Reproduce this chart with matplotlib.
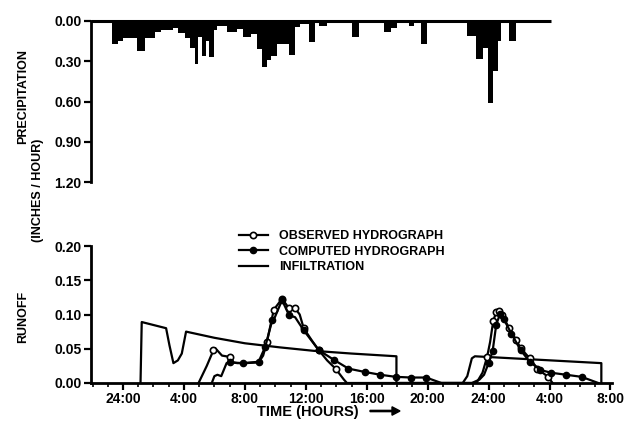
import matplotlib
matplotlib.use("Agg")
import matplotlib.pyplot as plt
from matplotlib.lines import Line2D
from matplotlib.ticker import MultipleLocator

# ---------------- data ----------------
# precipitation blocks (hours after first 24:00), inches/hour
precip_start = [-0.74, -0.31, 0.00, 0.90, 1.45, 2.10, 2.50, 3.30, 3.60, 4.10, 4.40, 4.70,
                4.95, 5.20, 5.45, 5.65, 5.95, 6.15, 6.80, 7.50, 7.90, 8.40, 8.80, 9.10,
                9.45, 9.70, 10.10, 10.88, 11.32, 11.64, 12.19, 12.85, 15.05, 17.13, 17.60,
                18.77, 19.54, 22.61, 23.16, 23.60, 23.93, 24.26, 24.59, 25.35]
precip_end = [-0.31, 0.00, 0.90, 1.45, 2.10, 2.50, 3.30, 3.60, 4.10, 4.40, 4.70, 4.95,
              5.20, 5.45, 5.65, 5.95, 6.15, 6.80, 7.50, 7.90, 8.40, 8.80, 9.10, 9.45,
              9.70, 10.10, 10.88, 11.32, 11.64, 12.19, 12.63, 13.40, 15.48, 17.60, 18.00,
              19.10, 19.98, 23.16, 23.60, 23.93, 24.26, 24.59, 24.80, 25.79]
precip_value = [0.17, 0.15, 0.13, 0.22, 0.13, 0.085, 0.07, 0.05, 0.09, 0.13, 0.20, 0.32,
                0.12, 0.26, 0.15, 0.27, 0.07, 0.04, 0.08, 0.06, 0.12, 0.10, 0.21, 0.34,
                0.29, 0.26, 0.17, 0.25, 0.045, 0.02, 0.16, 0.04, 0.12, 0.08, 0.05,
                0.04, 0.17, 0.11, 0.28, 0.20, 0.61, 0.37, 0.15, 0.15]

obs_t = [4.96, 5.5, 5.94, 6.05, 6.5, 7.04, 7.25, 7.5, 8.0, 8.9, 9.2, 9.45, 9.9, 10.44,
         10.9, 11.3, 11.6, 11.86, 12.4, 12.85, 13.4, 13.95, 14.5, 14.7,
         23.2, 23.6, 23.9, 24.1, 24.3, 24.5, 24.7, 24.9, 25.35, 25.8, 26.1, 26.7, 27.2, 27.9, 28.2]
obs_q = [0.0, 0.025, 0.048, 0.051, 0.040, 0.038, 0.030, 0.029, 0.029, 0.030, 0.040, 0.060,
         0.107, 0.123, 0.109, 0.109, 0.100, 0.080, 0.062, 0.048, 0.033, 0.021, 0.005, 0.0,
         0.0, 0.015, 0.038, 0.060, 0.090, 0.104, 0.105, 0.099, 0.080, 0.063, 0.051, 0.036,
         0.021, 0.009, 0.0]
obs_marks = [2, 5, 11, 12, 13, 14, 15, 17, 19, 21, 26, 28, 29, 30, 31, 32, 33, 34, 35, 36, 37]

comp_t = [5.83, 6.0, 6.2, 6.45, 6.8, 7.04, 7.9, 8.9, 9.34, 9.8, 9.95, 10.44, 10.9, 11.3,
          11.86, 12.85, 13.83, 14.8, 15.9, 16.9, 17.9, 18.9, 19.9, 20.9,
          22.9, 23.4, 23.7, 24.0, 24.26, 24.5, 24.75, 25.0, 25.5, 26.1, 26.7, 27.4, 28.1,
          29.1, 30.1, 31.2]
comp_q = [0.0, 0.010, 0.012, 0.010, 0.029, 0.030, 0.029, 0.031, 0.053, 0.092, 0.095, 0.121,
          0.099, 0.096, 0.077, 0.048, 0.034, 0.021, 0.016, 0.012, 0.009, 0.008, 0.008, 0.0,
          0.0, 0.005, 0.012, 0.029, 0.046, 0.085, 0.101, 0.093, 0.072, 0.048, 0.031, 0.019,
          0.015, 0.012, 0.009, 0.0]
comp_marks = [5, 6, 7, 8, 9, 11, 12, 14, 15, 16, 17, 18, 19, 20, 21, 22,
              27, 28, 29, 30, 31, 32, 33, 34, 35, 36, 37, 38]

infil_t = [1.15, 1.23, 2.83, 3.05, 3.31, 3.60, 3.86, 4.14, 6.0, 8.0, 10.3, 12.5, 15.0,
           17.95, 17.95, 22.3, 22.6, 22.9, 23.1, 31.4, 31.4]
infil_q = [0.0, 0.089, 0.080, 0.055, 0.029, 0.033, 0.043, 0.075, 0.066, 0.058, 0.052,
           0.047, 0.043, 0.039, 0.0, 0.0, 0.010, 0.036, 0.039, 0.029, 0.0]

x_ticks = [0, 4, 8, 12, 16, 20, 24, 28, 32]
x_labels = ["24:00", "4:00", "8:00", "12:00", "16:00", "20:00", "24:00", "4:00", "8:00"]
p_ticks = [0.0, 0.3, 0.6, 0.9, 1.2]
p_labels = ["0.00", "0.30", "0.60", "0.90", "1.20"]
r_ticks = [0.0, 0.05, 0.10, 0.15, 0.20]
r_labels = ["0.00", "0.05", "0.10", "0.15", "0.20"]

# ---------------- figure ----------------
plt.rcParams['font.family'] = ['Liberation Sans', 'DejaVu Sans']
plt.rcParams['font.weight'] = 'bold'
W, H = 626, 421
fig = plt.figure(figsize=(W / 100, H / 100), dpi=100)
xl = (-2.1, 32.1)

ax1 = fig.add_axes([91 / W, 1 - 182 / H, (612 - 91) / W, (182 - 21) / H])
ax2 = fig.add_axes([91 / W, 1 - 383 / H, (612 - 91) / W, (383 - 246) / H])

# top panel
widths = [e - s for s, e in zip(precip_start, precip_end)]
ax1.bar(precip_start, precip_value, width=widths, align='edge', color='black', linewidth=0)
ax1.hlines(0, -2.1, 28.1, color='black', lw=2.2, clip_on=False)
ax1.set_xlim(*xl)
ax1.set_ylim(1.2, 0)
ax1.set_yticks(p_ticks)
ax1.set_yticklabels(p_labels)
ax1.set_xticks([])
for s in ['top', 'right', 'bottom']:
    ax1.spines[s].set_visible(False)
ax1.spines['left'].set_linewidth(2)
ax1.tick_params(axis='y', length=5, width=1.6, labelsize=10, pad=2)

# bottom panel
lw = 1.6
ax2.plot(infil_t, infil_q, color='black', lw=lw)
ax2.plot(obs_t, obs_q, color='black', lw=lw, marker='o', ms=4.5, mfc='white', mec='black',
         mew=1.2, markevery=obs_marks)
ax2.plot(comp_t, comp_q, color='black', lw=lw, marker='o', ms=4.5, mfc='black', mec='black',
         markevery=comp_marks)
ax2.set_xlim(*xl)
ax2.set_ylim(0, 0.2)
ax2.set_yticks(r_ticks)
ax2.set_yticklabels(r_labels)
ax2.set_xticks(x_ticks)
ax2.set_xticklabels(x_labels)
ax2.xaxis.set_minor_locator(MultipleLocator(1))
for s in ['top', 'right']:
    ax2.spines[s].set_visible(False)
ax2.spines['left'].set_linewidth(2)
ax2.spines['bottom'].set_linewidth(2)
ax2.tick_params(axis='y', length=5, width=1.6, labelsize=10, pad=2)
ax2.tick_params(axis='x', which='major', length=5, width=1.6, labelsize=10, pad=1.5)
ax2.tick_params(axis='x', which='minor', length=3, width=1.2)

handles = [
    Line2D([], [], color='black', lw=lw, marker='o', ms=4.5, mfc='white', mew=1.2),
    Line2D([], [], color='black', lw=lw, marker='o', ms=4.5, mfc='black'),
    Line2D([], [], color='black', lw=lw),
]
fig.legend(handles, ["OBSERVED HYDROGRAPH", "COMPUTED HYDROGRAPH", "INFILTRATION"],
           loc='upper left', bbox_to_anchor=(239 / W, 1 - 230 / H), frameon=False,
           fontsize=9, handlelength=2.3, handletextpad=0.9, labelspacing=0.28,
           borderpad=0, borderaxespad=0)

fig.text(23 / W, 1 - 97 / H, "PRECIPITATION", rotation=90, ha='center', va='center',
         fontsize=9, fontweight='bold')
fig.text(38 / W, 1 - 190 / H, "(INCHES / HOUR)", rotation=90, ha='center', va='center',
         fontsize=9, fontweight='bold')
fig.text(23 / W, 1 - 317 / H, "RUNOFF", rotation=90, ha='center', va='center',
         fontsize=9, fontweight='bold')
fig.text(257 / W, 1 - 412 / H, "TIME (HOURS)", ha='left', va='center', fontsize=10.5,
         fontweight='bold')
fig.patches.append(matplotlib.patches.FancyArrow(
    370 / W, 1 - 411 / H, 30 / W, 0, width=0.003, head_width=0.02, head_length=8 / W,
    length_includes_head=True, color='black', transform=fig.transFigure, figure=fig))

fig.savefig("out.png", dpi=100)
